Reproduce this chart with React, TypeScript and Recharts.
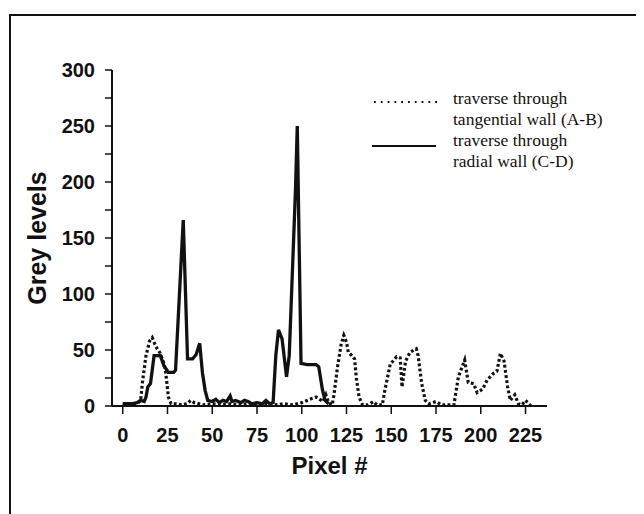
import { LineChart, Line, XAxis, YAxis, Legend } from "recharts";

// traverse through radial wall (C-D) - solid
const radialX = [0, 5, 8, 10, 12, 13, 14, 15.5, 17.5, 21, 23, 25.5, 28.5, 29.5, 33.8, 36.2, 39, 41, 43, 44.5, 46, 47.5, 50, 52, 54, 56, 58, 60, 61, 63, 66, 68, 70, 72, 75, 78, 80, 82, 84, 85.5, 87, 89, 91.5, 93, 96.5, 97.5, 99.6, 103, 108, 109.5, 111.5, 113, 115];
const radialY = [2, 2, 3, 5, 4, 8, 17, 20, 45, 45, 36, 30, 30, 32, 166, 42, 42, 46, 56, 30, 14, 5, 4, 6, 3, 5, 4, 9, 4, 5, 3, 5, 4, 2, 3, 2, 5, 2, 3, 45, 68, 60, 26, 45, 193, 250, 38, 37, 37, 35, 15, 5, 2];

// traverse through tangential wall (A-B) - dotted
const tangentialX = [0, 5, 8, 10, 11, 13, 15, 16.5, 18.5, 21, 23, 24, 25.5, 27, 30, 33, 36, 38, 40, 45, 50, 55, 60, 65, 70, 75, 80, 85, 90, 95, 100, 103, 106, 108, 110, 112, 113.5, 115, 117, 118, 120, 122, 123.5, 125, 126, 128, 129.5, 130.5, 132, 134, 137, 140, 142, 145, 146.5, 148, 149.5, 151, 153, 155, 156, 158, 160.5, 164, 165, 167, 169, 171, 175, 178, 182, 185, 187.5, 191, 193, 196, 198, 201, 203.5, 207, 209, 211, 213, 215, 216.5, 219, 221, 223, 225, 228];
const tangentialY = [1, 1, 2, 5, 21, 45, 58, 61, 53, 47, 38, 30, 8, 2, 2, 1, 2, 5, 3, 1, 2, 1, 2, 1, 2, 1, 2, 1, 2, 1, 3, 5, 7, 8, 6, 4, 10, 3, 1, 10, 35, 55, 63, 57, 48, 45, 42, 25, 8, 1, 1, 4, 1, 1, 15, 26, 38, 40, 44, 43, 17, 40, 48, 51, 45, 20, 5, 2, 4, 1, 1, 1, 26, 41, 21, 20, 12, 15, 23, 29, 31, 47, 40, 17, 5, 10, 2, 1, 5, 0];

const xTicks = [0, 25, 50, 75, 100, 125, 150, 175, 200, 225];
const yTicks = [0, 25, 50, 75, 100, 125, 150, 175, 200, 225, 250, 275, 300];

const radialData = radialX.map((x, i) => ({ x, y: radialY[i] }));
const tangentialData = tangentialX.map((x, i) => ({ x, y: tangentialY[i] }));

const sans = "'Liberation Sans', Arial, Helvetica, sans-serif";
const serif = "'Liberation Serif', 'Times New Roman', serif";

function LegendBox() {
  const text = { position: "absolute" as const, left: 83, fontFamily: serif, fontSize: 17.5, lineHeight: "21px", color: "#111", whiteSpace: "nowrap" as const };
  return (
    <div style={{ position: "relative", width: 250, height: 100 }}>
      <svg style={{ position: "absolute", left: 0, top: 0 }} width={80} height={80}>
        <line x1={4} x2={70} y1={18} y2={18} stroke="#111" strokeWidth={1.8} strokeDasharray="1.8 5" />
        <line x1={2} x2={66} y1={62} y2={62} stroke="#111" strokeWidth={1.8} />
      </svg>
      <div style={{ ...text, top: 4 }}>
        traverse through<br />tangential wall (A-B)
      </div>
      <div style={{ ...text, top: 46 }}>
        traverse through<br />radial wall (C-D)
      </div>
    </div>
  );
}

export default function App() {
  return (
    <div style={{ position: "relative", width: 644, height: 514, margin: "-8px 0 0 -8px", overflow: "hidden", background: "#fff" }}>
      <div style={{ position: "absolute", left: 9, top: 14, width: 626, height: 520, border: "2px solid #111", borderBottom: "none" }} />
      <div style={{ position: "absolute", left: 0, top: 0 }}>
        <LineChart width={644} height={514} margin={{ top: 70, right: 97, bottom: 38, left: 20 }}>
          <XAxis
            type="number"
            dataKey="x"
            domain={[-6, 237]}
            ticks={xTicks}
            allowDataOverflow
            height={70}
            axisLine={{ stroke: "#111", strokeWidth: 2 }}
            tickLine={{ stroke: "#111", strokeWidth: 1.5 }}
            tickSize={8}
            tickMargin={14}
            tick={{ fill: "#111", fontSize: 20, fontWeight: 700, fontFamily: sans }}
            label={{ value: "Pixel #", position: "insideBottom", offset: 2, fill: "#111", fontSize: 24, fontWeight: 700, fontFamily: sans }}
          />
          <YAxis
            type="number"
            dataKey="y"
            domain={[0, 300]}
            ticks={yTicks}
            allowDataOverflow
            width={92}
            axisLine={{ stroke: "#111", strokeWidth: 2 }}
            tickLine={{ stroke: "#111", strokeWidth: 1.5 }}
            tickSize={7}
            tickMargin={10}
            tickFormatter={(v: number) => (v % 50 === 0 ? String(v) : "")}
            tick={{ fill: "#111", fontSize: 20, fontWeight: 700, fontFamily: sans }}
            label={{ value: "Grey levels", angle: -90, position: "insideLeft", offset: 17, fill: "#111", fontSize: 25, fontWeight: 700, fontFamily: sans, style: { textAnchor: "middle" } }}
          />
          <Legend layout="vertical" align="center" verticalAlign="middle" wrapperStyle={{ left: 370, top: 84, width: 260 }} content={() => <LegendBox />} />
          <Line
            data={tangentialData}
            dataKey="y"
            type="linear"
            stroke="#111"
            strokeWidth={3.2}
            strokeDasharray="2.8 2.4"
            dot={false}
            isAnimationActive={false}
            name="traverse through tangential wall (A-B)"
          />
          <Line
            data={radialData}
            dataKey="y"
            type="linear"
            stroke="#111"
            strokeWidth={3.3}
            dot={false}
            isAnimationActive={false}
            name="traverse through radial wall (C-D)"
          />
        </LineChart>
      </div>
    </div>
  );
}
